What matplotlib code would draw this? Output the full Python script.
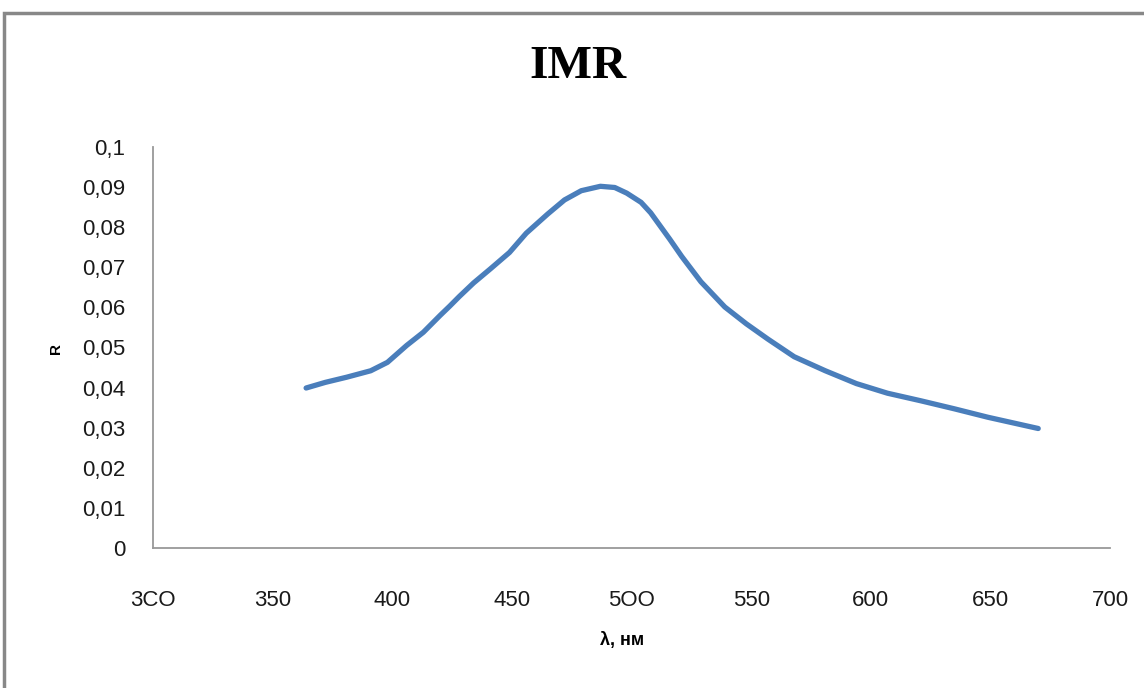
import matplotlib
matplotlib.use("Agg")
import matplotlib.pyplot as plt
from matplotlib.patches import Rectangle

# wavelength (nm) and reflectance
wavelength = [364, 372, 381, 391, 398, 406, 413, 420, 424, 428, 434, 441,
              449, 456, 465, 472, 479, 487, 493, 498, 504, 508, 512, 516,
              521, 529, 539, 548, 557, 568, 581, 594, 607, 621, 635, 649, 670]
reflect = [0.0399, 0.0413, 0.0426, 0.0442, 0.0463, 0.0505, 0.0538, 0.0580,
           0.0603, 0.0627, 0.0661, 0.0696, 0.0737, 0.0785, 0.0833, 0.0868,
           0.0891, 0.0902, 0.0899, 0.0885, 0.0862, 0.0836, 0.0803, 0.0770,
           0.0727, 0.0664, 0.0601, 0.0559, 0.0521, 0.0477, 0.0442, 0.0410,
           0.0386, 0.0367, 0.0347, 0.0326, 0.0298]

x_ticks = [300, 350, 400, 450, 500, 550, 600, 650, 700]
x_ticklabels = ["3CO", "350", "400", "450", "5OO", "550", "600", "650", "700"]
y_ticks = [0, 0.01, 0.02, 0.03, 0.04, 0.05, 0.06, 0.07, 0.08, 0.09, 0.1]
y_ticklabels = ["0", "0,01", "0,02", "0,03", "0,04", "0,05", "0,06",
                "0,07", "0,08", "0,09", "0,1"]

fig = plt.figure(figsize=(11.44, 6.88), dpi=100)
W, H = 1144, 688

# grey chart frame, cut off at right and bottom like the screenshot
fig.patches.append(Rectangle((4 / W, -0.05), 1.2, 1 - 13 / H + 0.05,
                             transform=fig.transFigure, fill=False,
                             edgecolor="#888888", linewidth=2.5))

ax = fig.add_axes([153 / W, 1 - 548 / H, (1110 - 153) / W, (548 - 147) / H])
ax.plot(wavelength, reflect, color="#4A7EBB", linewidth=3.8,
        solid_capstyle="round", solid_joinstyle="round")

ax.set_xlim(300, 700)
ax.set_ylim(0, 0.1)
ax.set_xticks(x_ticks)
ax.set_xticklabels(x_ticklabels)
ax.set_yticks(y_ticks)
ax.set_yticklabels(y_ticklabels)
ax.tick_params(axis="both", length=0, labelsize=16, colors="#1a1a1a")
ax.tick_params(axis="x", pad=30)
ax.tick_params(axis="y", pad=20)
for lab in ax.get_xticklabels() + ax.get_yticklabels():
    lab.set_family("Liberation Sans")

for s in ["top", "right"]:
    ax.spines[s].set_visible(False)
for s in ["left", "bottom"]:
    ax.spines[s].set_color("#999999")
    ax.spines[s].set_linewidth(1.3)

fig.text(578 / W, 1 - 67 / H, "IMR", ha="center", va="center",
         fontsize=34, fontweight="bold", family="Liberation Serif")
fig.text(56 / W, 1 - 348 / H, "R", ha="center", va="center", rotation=90,
         fontsize=11, fontweight="bold", family="Liberation Sans")
fig.text(622 / W, 1 - 641 / H, "λ, нм", ha="center", va="center",
         fontsize=13, fontweight="bold", family="Liberation Sans")

fig.savefig("out.png", dpi=100)
